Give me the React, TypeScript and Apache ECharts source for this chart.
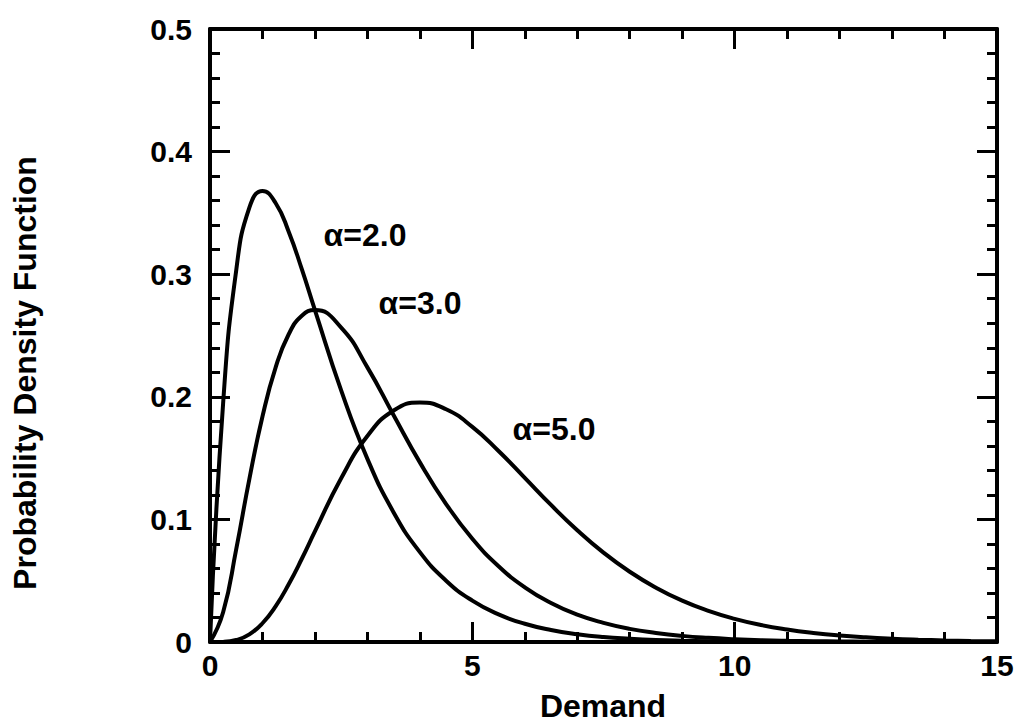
import React, { useEffect, useRef } from "react";
import * as echarts from "echarts";

// Demand values (x)
const demand = [0, 0.25, 0.5, 0.75, 1, 1.25, 1.5, 1.75, 2, 2.5, 3, 3.5, 4, 4.5, 5, 5.5, 6, 6.5, 7, 7.5, 8, 8.5, 9, 9.5, 10, 10.5, 11, 11.5, 12, 12.5, 13, 13.5, 14, 14.5, 15];

// Probability density
const pdfA2 = [0, 0.1947, 0.3033, 0.3543, 0.3679, 0.3581, 0.3347, 0.3041, 0.2707, 0.2052, 0.1494, 0.1057, 0.0733, 0.05, 0.0337, 0.0225, 0.0149, 0.0098, 0.0064, 0.0041, 0.0027, 0.0017, 0.0011, 0.0007, 0.0005, 0.0003, 0.0002, 0.0001, 0.0001, 0, 0, 0, 0, 0, 0];
const pdfA3 = [0, 0.0243, 0.0758, 0.1329, 0.1839, 0.2238, 0.251, 0.2661, 0.2707, 0.2565, 0.224, 0.185, 0.1465, 0.1125, 0.0842, 0.0618, 0.0446, 0.0318, 0.0223, 0.0156, 0.0107, 0.0074, 0.005, 0.0034, 0.0023, 0.0015, 0.001, 0.0007, 0.0004, 0.0003, 0.0002, 0.0001, 0.0001, 0.0001, 0];
const pdfA5 = [0, 0.0001, 0.0016, 0.0062, 0.0153, 0.0291, 0.0471, 0.0679, 0.0902, 0.1336, 0.168, 0.1888, 0.1954, 0.1898, 0.1755, 0.1558, 0.1339, 0.1118, 0.0912, 0.0729, 0.0573, 0.0443, 0.0337, 0.0254, 0.0189, 0.0139, 0.0102, 0.0074, 0.0053, 0.0038, 0.0027, 0.0019, 0.0013, 0.0009, 0.0006];

const curveLabels = ["α=2.0", "α=3.0", "α=5.0"];

const FONT = '"Liberation Sans", Arial, Helvetica, sans-serif';

export default function App() {
  const ref = useRef<HTMLDivElement>(null);
  useEffect(() => {
    if (!ref.current) return;
    const chart = echarts.init(ref.current, undefined, { renderer: "svg" });
    const axisLine = { show: true, onZero: false, lineStyle: { color: "#000", width: 4 } };
    const tick = { show: true, inside: true, length: 20, lineStyle: { color: "#000", width: 3 } };
    const minor = { show: true, splitNumber: 5, length: 10, lineStyle: { color: "#000", width: 3 } };
    const label = { color: "#000", fontFamily: FONT, fontWeight: "bold" as const, fontSize: 30 };
    const xBase = { type: "value" as const, min: 0, max: 15, interval: 5, axisLine, axisTick: tick, minorTick: minor, splitLine: { show: false }, minorSplitLine: { show: false } };
    const yBase = { type: "value" as const, min: 0, max: 0.5, interval: 0.1, axisLine, axisTick: tick, minorTick: minor, splitLine: { show: false }, minorSplitLine: { show: false } };
    const mk = (ys: number[]) => demand.map((x, i) => [x, ys[i]]);
    const line = (name: string, ys: number[]) => ({
      name,
      type: "line" as const,
      data: mk(ys),
      smooth: true,
      showSymbol: false,
      symbol: "none",
      lineStyle: { color: "#000", width: 4 },
      xAxisIndex: 0,
      yAxisIndex: 0,
    });
    const annot = (text: string, x: number, y: number) => ({
      type: "text",
      x,
      y,
      style: { text, font: `bold 32px ${FONT}`, fill: "#000", textAlign: "center", textVerticalAlign: "middle" },
    });
    chart.setOption({
      animation: false,
      backgroundColor: "#fff",
      grid: { left: 210, right: 25, top: 29, bottom: 82, containLabel: false },
      xAxis: [
        { ...xBase, position: "bottom", axisLabel: { ...label, margin: 8 } },
        { ...xBase, position: "top", axisLabel: { show: false } },
      ],
      yAxis: [
        { ...yBase, position: "left", axisLabel: { ...label, margin: 18 } },
        { ...yBase, position: "right", axisLabel: { show: false } },
      ],
      series: [line(curveLabels[0], pdfA2), line(curveLabels[1], pdfA3), line(curveLabels[2], pdfA5)],
      graphic: [
        {
          type: "text",
          x: 25,
          y: 373,
          rotation: Math.PI / 2,
          style: { text: "Probability Density Function", font: `bold 32px ${FONT}`, fill: "#000", textAlign: "center", textVerticalAlign: "middle" },
        },
        {
          type: "text",
          x: 603,
          y: 706,
          style: { text: "Demand", font: `bold 32px ${FONT}`, fill: "#000", textAlign: "center", textVerticalAlign: "middle" },
        },
        annot(curveLabels[0], 365, 235),
        annot(curveLabels[1], 420, 303),
        annot(curveLabels[2], 554, 429),
      ],
    });
    return () => chart.dispose();
  }, []);
  return <div ref={ref} style={{ position: "fixed", left: 0, top: 0, width: 1022, height: 724 }} />;
}
